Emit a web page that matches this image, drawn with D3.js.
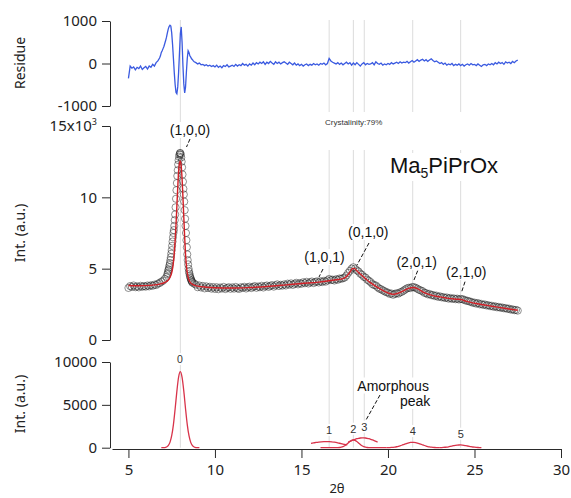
<!DOCTYPE html>
<html><head><meta charset="utf-8">
<script src="https://cdn.jsdelivr.net/npm/d3@7"></script>
<style>body{margin:0;background:#fff}</style>
</head><body>
<svg id="c" width="571" height="498"></svg>
<script>
// ---------- DATA ----------
// Residue (obs - fit), three sampling segments
const residueA = [-350,-60,-110,-80,-150,-90,-120,-60,-140,-100,-70,-130,-60,-90,-20,-60,20,60,130]; // 5.0..6.8 step 0.1
const residueB = [180,260,300,350,400,470,540,620,720,810,870,900,880,720,450,120,-220,-500,-680,-710,-550,-200,250,700,860,500,-50,-480,-690,-560,-200,120,300,260,180,150,110,90,60,40]; // 6.85..8.80 step 0.05
const residueC = [20,-10,10,-30,-20,-50,-30,-60,-40,-70,-50,
 -80,-40,-90,-60,-100,-50,-70,-30,-80,-60,
 -40,-70,-20,-60,-30,-50,0,-40,-20,-60,
 -10,-40,10,-30,20,-10,30,0,40,-20,
 30,0,50,10,-20,40,0,30,-10,20,
 40,10,-20,30,0,-30,10,-40,-10,-50,
 -20,-60,-30,-10,-50,-20,-40,0,-30,-10,
 -40,0,-20,10,-30,0,120,60,30,10,
 -10,20,-20,10,-30,0,30,-10,20,-40,
 10,-30,20,-20,-60,-10,20,-30,0,-20,
 -10,20,-30,40,0,-20,10,-40,-10,-30,
 0,-20,20,-10,10,30,0,40,10,30,
 20,50,10,40,70,30,60,90,50,80,
 100,60,90,50,80,110,70,40,60,30,
 0,20,-20,10,-40,-10,-30,0,-50,-20,
 -40,-10,-50,-20,-60,-30,-10,-40,0,-30,
 -20,-50,-10,-40,-70,-30,-20,-50,-10,-30,
 0,-30,20,-10,30,0,20,-20,40,10,
 30,0,50,20,60,80]; // 8.9..27.5 step 0.1

// Observed intensity (circles)
const observedA = [3650,3780,3720,3820,3700,3760,3690,3800,3730,3780,3740,3820,3760,3840,3800,3880,3850,3950,3990,4080,4150,4280,4420]; // 5.0..7.2 step 0.1
const observedB = [4600,4700,4850,4950,5100,5250,5400,5600,5800,6050,
 6300,6600,6900,7200,7500,7700,8000,8400,8800,9300,
 9900,10500,11000,11500,11900,12300,12600,12850,13000,13100,
 13100,13000,12800,12500,12100,11600,11100,10600,10200,9700,
 9100,8500,8000,7500,7000,6500,6000,5600,5300,5000,
 4800,4650,4500,4400,4300,4200,4150,4080,4020]; // 7.25..8.70 step 0.025
const observedC = [3950,3880,3700,3820,3680,3790,3620,3760,3640,3730,3600,3710,
 3580,3700,3560,3680,3610,3720,3570,3650,3700,3590,
 3690,3600,3720,3620,3580,3700,3650,3730,3610,3690,
 3740,3640,3720,3780,3660,3750,3700,3800,3680,3770,
 3820,3720,3790,3850,3740,3830,3900,3780,3870,3810,
 3900,3820,3950,3880,3970,3860,3940,4010,3900,3990,
 3940,4050,3980,4080,3960,4040,4100,3990,4070,4110,
 4030,4120,4060,4150,4090,4180,4280,4200,4230,4170,
 4260,4220,4310,4290,4330,4380,4520,4700,4850,5000,
 5100,5000,4880,4800,4650,4570,4430,4380,4230,4150,
 4050,3920,3850,3820,3700,3600,3560,3480,3420,3350,
 3320,3230,3260,3170,3230,3280,3250,3340,3380,3460,
 3540,3620,3660,3640,3720,3700,3660,3590,3520,3470,
 3420,3310,3290,3200,3230,3140,3160,3080,3110,3020,
 3060,2990,3010,2940,2980,2900,2950,2880,2920,2860,
 2900,2840,2880,2860,2820,2760,2750,2700,2680,2610,
 2620,2550,2590,2500,2530,2460,2490,2420,2440,2370,
 2400,2330,2360,2290,2320,2260,2280,2220,2240,2180,
 2200,2130,2150,2090,2110,2060]; // 8.8..27.5 step 0.1

// Fit curve
const fitX = [5.0,5.5,6.0,6.5,6.8,7.0,7.2,7.3,7.4,7.5,7.55,7.6,7.65,7.7,7.75,7.8,7.85,7.9,7.95,8.0,8.05,8.1,8.15,8.2,8.25,8.3,8.35,8.4,8.45,8.5,8.6,8.8,9.0,9.5,10,11,12,13,14,15,16,16.6,17.0,17.4,17.6,17.8,17.95,18.05,18.2,18.4,18.7,19.0,19.5,20.0,20.3,20.6,20.9,21.2,21.45,21.7,22.0,22.5,23.0,23.5,24.0,24.25,24.5,25.0,25.5,26.0,26.5,27.0,27.5];
const fitY = [3820,3800,3810,3860,3920,3980,4100,4200,4380,4700,5000,5450,6100,7000,8100,9400,10700,11800,12400,12550,12200,11300,10000,8600,7200,6000,5200,4700,4400,4200,4000,3850,3780,3700,3660,3640,3680,3750,3850,3960,4060,4150,4220,4300,4450,4750,5000,5020,4850,4620,4300,4000,3620,3300,3200,3280,3450,3620,3680,3600,3380,3140,3020,2920,2860,2830,2720,2580,2470,2370,2270,2170,2080];

// Peak components (bottom panel)
const comp0 = [0,10,20,80,240,620,1400,2700,4550,6600,8250,8870,8200,6600,4550,2700,1400,620,240,80,20,10,0]; // 6.9..9.1 step 0.1
const comp1 = [510,560,610,650,680,698,705,700,680,640,590,520,450,380,320]; // 15.55..17.65 step 0.15
const comp2 = [0,0,0,0,0,0,0,0,0,3,10,25,60,120,225,370,545,720,850,900,850,720,545,370,225,120,60,25,10,3,0,0,0,0,0,0,0,0,0]; // 16.1..19.9 step 0.1
const comp3 = [654,741,827,908,982,1045,1095,1130,1148,1148,1130,1095,1045,982,908,827,741,654]; // 17.7..19.4 step 0.1
const comp4 = [6,11,18,30,49,76,112,159,217,285,359,435,507,567,609,629,624,595,544,479,405,329,257,192,139,96,64,41,25,15,8,5]; // 19.9..23.0 step 0.1
const comp5 = [12,20,33,51,77,109,148,190,232,271,300,317,319,305,278,241,198,156,117,83,56,36,22,13,7]; // 23.0..25.4 step 0.1

const peakPositions = [8.0, 16.6, 18.0, 18.63, 21.43, 24.2];
const xTicks = [5,10,15,20,25,30];
const resTicks = [-1000,0,1000];
const intTicks = [0,5000,10000,15000];
const compTicks = [0,5000,10000];
const hklLabels = ["(1,0,0)","(1,0,1)","(0,1,0)","(2,0,1)","(2,1,0)"];
const compLabels = ["0","1","2","3","4","5"];

// ---------- HELPERS ----------
const grid = (start, step, vals) => vals.map((v,i)=>[+(start+i*step).toFixed(4), v]);
const residue = [...grid(5.0,0.1,residueA), ...grid(6.85,0.05,residueB), ...grid(8.9,0.1,residueC)];
const observed = [...grid(5.0,0.1,observedA), ...grid(7.25,0.025,observedB), ...grid(8.8,0.1,observedC)];
const fit = fitX.map((x,i)=>[x, fitY[i]]);
const comps = [grid(6.9,0.1,comp0), grid(15.55,0.15,comp1), grid(16.1,0.1,comp2), grid(17.7,0.1,comp3), grid(19.9,0.1,comp4), grid(23.0,0.1,comp5)];

// ---------- SCALES ----------
const svg = d3.select("#c");
const x = d3.scaleLinear().domain([4.05, 30]).range([112, 561]);
const yRes = d3.scaleLinear().domain([-1000, 1000]).range([106, 21]);
const yInt = d3.scaleLinear().domain([0, 15000]).range([340, 126]);
const yComp = d3.scaleLinear().domain([0, 10000]).range([447.7, 362]);

const tickFont = "'Noto Sans', 'Open Sans', sans-serif";
const annFont = "'Liberation Sans', Arial, sans-serif";
const axisColor = "#2a2a2a";
const plain = d => String(d);

// ---------- GRAY REFERENCE LINES ----------
const gl = svg.append("g").attr("stroke", "#dcdcdc").attr("stroke-width", 1);
peakPositions.forEach((p, i) => {
  if (i === 0) {
    gl.append("line").attr("x1", x(p)).attr("x2", x(p)).attr("y1", 20).attr("y2", 447.7);
  } else {
    gl.append("line").attr("x1", x(p)).attr("x2", x(p)).attr("y1", 20).attr("y2", 112);
    gl.append("line").attr("x1", x(p)).attr("x2", x(p)).attr("y1", 150).attr("y2", 447.7);
  }
});

// ---------- AXES ----------
function styleAxis(g) {
  g.selectAll("path,line").attr("stroke", axisColor).attr("stroke-width", 1);
  g.selectAll("text").attr("font-family", tickFont).attr("font-size", 15).attr("fill", "#222");
}
svg.append("g").attr("transform", "translate(110,0)")
  .call(d3.axisLeft(yRes).tickValues(resTicks).tickSize(8).tickSizeOuter(0).tickPadding(5).tickFormat(plain))
  .call(styleAxis);
const gInt = svg.append("g").attr("transform", "translate(110,0)")
  .call(d3.axisLeft(yInt).tickValues(intTicks).tickSize(8).tickSizeOuter(0).tickPadding(5).tickFormat(d => d === 15000 ? "" : String(d/1000)))
  .call(styleAxis);
gInt.selectAll(".tick").filter(d => d === 15000).select("text")
  .call(t => { t.append("tspan").text("15x10"); t.append("tspan").text("3").attr("font-size", 9).attr("dy", "-0.7em"); });
svg.append("g").attr("transform", "translate(110,0)")
  .call(d3.axisLeft(yComp).tickValues(compTicks).tickSize(8).tickSizeOuter(0).tickPadding(5).tickFormat(plain))
  .call(styleAxis);
svg.append("g").attr("transform", "translate(0,449)")
  .call(d3.axisBottom(x).tickValues(xTicks).tickSize(9).tickSizeOuter(0).tickPadding(6).tickFormat(plain))
  .call(styleAxis);

// Axis titles
function vTitle(txt, cx, cy) {
  svg.append("text").attr("transform", `translate(${cx},${cy}) rotate(-90)`)
    .attr("text-anchor", "middle").attr("font-family", tickFont).attr("font-size", 14).attr("fill", "#222").text(txt);
}
vTitle("Residue", 25, 63);
vTitle("Int. (a.u.)", 25, 233);
vTitle("Int. (a.u.)", 25, 404);
svg.append("text").attr("x", 337).attr("y", 493).attr("text-anchor", "middle")
  .attr("font-family", tickFont).attr("font-size", 13).attr("fill", "#222").text("2θ");

// ---------- RESIDUE ----------
svg.append("path").datum(residue)
  .attr("d", d3.line().x(d => x(d[0])).y(d => yRes(d[1])))
  .attr("fill", "none").attr("stroke", "#3a5ae0").attr("stroke-width", 1.3);

// ---------- OBSERVED + FIT ----------
svg.append("g").selectAll("circle").data(observed).join("circle")
  .attr("cx", d => x(d[0])).attr("cy", d => yInt(d[1])).attr("r", 3.6)
  .attr("fill", "none").attr("stroke", "#1a1a1a").attr("stroke-opacity", 0.6).attr("stroke-width", 0.8);
svg.append("path").datum(fit)
  .attr("d", d3.line().x(d => x(d[0])).y(d => yInt(d[1])).curve(d3.curveMonotoneX))
  .attr("fill", "none").attr("stroke", "#d21f26").attr("stroke-width", 1.4);

// ---------- COMPONENTS ----------
comps.forEach(c => {
  svg.append("path").datum(c)
    .attr("d", d3.line().x(d => x(d[0])).y(d => yComp(d[1])).curve(d3.curveMonotoneX))
    .attr("fill", "none").attr("stroke", "#d8334a").attr("stroke-width", 1.3);
});

// ---------- ANNOTATIONS ----------
function label(txt, px, py, size, anchor, color) {
  const t = svg.append("text").attr("x", px).attr("y", py).attr("text-anchor", anchor || "middle")
    .attr("font-family", annFont).attr("font-size", size).attr("fill", color || "#111").text(txt);
  const b = t.node().getBBox();
  svg.insert("rect", () => t.node()).attr("x", b.x - 1).attr("y", b.y).attr("width", b.width + 2).attr("height", b.height).attr("fill", "#fff");
  return t;
}
const hklPos = [[190,135],[324.5,262],[368.3,237],[416.7,267],[466.3,277]];
hklLabels.forEach((s, i) => label(s, hklPos[i][0], hklPos[i][1], 14));
const compPos = [[180,363],[329,434],[353.3,432.7],[364.3,430.7],[412.7,435],[460.7,437.7]];
compLabels.forEach((s, i) => label(s, compPos[i][0], compPos[i][1], i === 0 ? 10.5 : 11, "middle", "#333"));

label("Amorphous", 357.3, 390.5, 14, "start");
label("peak", 400, 406, 14, "start");

// Title
const title = svg.append("text").attr("x", 390).attr("y", 173).attr("font-family", annFont).attr("font-size", 22).attr("fill", "#111");
title.append("tspan").text("Ma");
title.append("tspan").text("5").attr("font-size", 14).attr("dy", 5);
title.append("tspan").text("PiPrOx").attr("dy", -5);
const tb = title.node().getBBox();
svg.insert("rect", () => title.node()).attr("x", tb.x - 2).attr("y", tb.y).attr("width", tb.width + 4).attr("height", tb.height).attr("fill", "#fff");

svg.append("text").attr("x", 325).attr("y", 125).attr("font-family", annFont).attr("font-size", 8).attr("fill", "#333").text("Crystalinity:79%");

// Leader lines
const leaders = [[190,139,186.5,147],[323,269,319,277],[369,243,357,265],[417.7,270.7,413.3,281.7],[465,281.7,461.7,291.7],[380,395,366,420]];
svg.append("g").selectAll("line").data(leaders).join("line")
  .attr("x1", d => d[0]).attr("y1", d => d[1]).attr("x2", d => d[2]).attr("y2", d => d[3])
  .attr("stroke", "#111").attr("stroke-width", 1).attr("stroke-dasharray", "4,2");
</script>
</body></html>
